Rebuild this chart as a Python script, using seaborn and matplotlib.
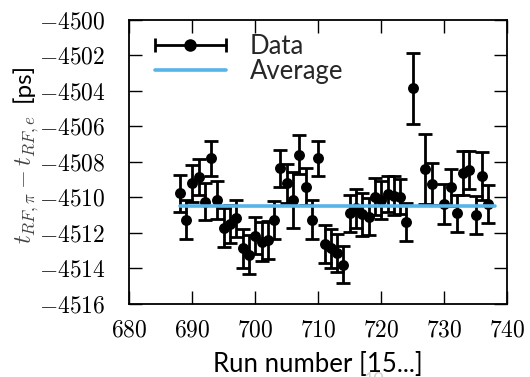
import numpy as np
import pandas as pd
import matplotlib
matplotlib.use("Agg")
import matplotlib.pyplot as plt
from matplotlib.legend_handler import HandlerErrorbar
import seaborn as sns

# ---- data ----
runs = [688, 689, 690, 691, 692, 693, 694, 695, 696, 697, 698, 699, 700, 701,
        702, 703, 704, 705, 706, 707, 708, 709, 710, 711, 712, 713, 714, 715,
        716, 717, 718, 719, 720, 721, 722, 723, 724, 725, 727, 728, 730, 731,
        732, 733, 734, 735, 736, 737]
dt = [-4509.76, -4511.27, -4509.20, -4508.85, -4510.24, -4507.80, -4510.14,
      -4511.70, -4511.50, -4511.17, -4512.86, -4513.24, -4512.15, -4512.50,
      -4512.40, -4511.27, -4508.35, -4509.20, -4510.14, -4507.60, -4509.40,
      -4511.27, -4507.80, -4512.62, -4512.86, -4513.14, -4513.80, -4510.90,
      -4510.60, -4510.95, -4511.08, -4509.95, -4510.14, -4509.80, -4509.90,
      -4509.95, -4511.38, -4503.85, -4508.40, -4509.25, -4510.37, -4509.43,
      -4510.90, -4508.64, -4508.45, -4510.99, -4508.80, -4510.37]
err = [1.05, 1.10, 1.05, 1.00, 1.05, 1.00, 1.05, 1.10, 1.05, 1.05, 1.10, 1.10,
       1.05, 1.10, 1.05, 1.05, 1.05, 1.10, 1.60, 1.10, 1.05, 1.10, 1.00, 1.05,
       1.10, 1.05, 1.05, 1.05, 1.10, 1.20, 1.05, 1.05, 1.05, 1.00, 1.10, 1.00,
       1.05, 2.00, 1.95, 1.20, 1.15, 1.05, 1.05, 1.25, 1.05, 1.05, 1.35, 1.05]
avg_runs = [688, 738]
avg_val = [-4510.5, -4510.5]
xticks = [680, 690, 700, 710, 720, 730, 740]
yticks = [-4516, -4514, -4512, -4510, -4508, -4506, -4504, -4502, -4500]

df = pd.DataFrame({"run": runs, "dt": dt, "err": err})
avg_df = pd.DataFrame({"run": avg_runs, "dt": avg_val})

sns.set_theme(style="ticks")
plt.rcParams["font.family"] = ["Lato", "DejaVu Sans"]
plt.rcParams["mathtext.fontset"] = "cm"

fig = plt.figure(figsize=(5.30, 3.77), dpi=100)
ax = fig.add_axes([0.244, 0.194, 0.713, 0.753])

LW = 2.0
CAP = 5.0
# error bars (data)
ax.errorbar(df["run"], df["dt"], yerr=df["err"], fmt="none", ecolor="black",
            elinewidth=LW, capsize=CAP, capthick=LW, zorder=3)
sns.scatterplot(data=df, x="run", y="dt", ax=ax, color="black", s=62,
                edgecolor="black", linewidth=0, zorder=4, legend=False)
# average line
sns.lineplot(data=avg_df, x="run", y="dt", ax=ax, color="#56B4E9",
             linewidth=2.6, zorder=5, legend=False)

# legend handles
h_data = ax.errorbar([np.nan], [np.nan], xerr=[1], fmt="o", color="black",
                     markersize=8, elinewidth=LW, capsize=CAP, capthick=LW)
h_avg, = ax.plot([np.nan], [np.nan], color="#56B4E9", linewidth=2.6)
leg = ax.legend([h_data, h_avg], ["Data", "Average"], loc="upper left",
                bbox_to_anchor=(0.068, 0.952), frameon=False, fontsize=18.5,
                handlelength=2.75, handletextpad=0.95, labelspacing=0.0,
                borderpad=0.0, borderaxespad=0.0,
                handler_map={type(h_data): HandlerErrorbar(xerr_size=1.375,
                                                          marker_pad=0.0)})

ax.set_xlim(680, 740)
ax.set_ylim(-4516, -4500)
ax.set_xticks(xticks)
ax.set_xticklabels([f"${v}$" for v in xticks])
ax.set_yticks(yticks)
ax.set_yticklabels([f"${v}$" for v in yticks])
ax.tick_params(axis="both", which="major", direction="in", length=9.5,
               width=1.0, color="black", labelsize=17, top=True, right=True,
               labelcolor="black")
ax.tick_params(axis="y", pad=17)
ax.tick_params(axis="x", pad=11)
for s in ax.spines.values():
    s.set_linewidth(1.3)
    s.set_color("black")

ax.set_xlabel("Run number [15...]", fontsize=18.5, color="black", labelpad=8.5)
ax.set_ylabel("")
# y label: math part and unit part
fig.text(27 / 530, 1 - 180 / 377, r"$t_{RF,\pi} - t_{RF,e}$", fontsize=17.5,
         color="#444444", rotation=90, ha="center", va="center")
fig.text(22.5 / 530, 1 - 82.5 / 377, "[ps]", fontsize=17.5, color="black",
         rotation=90, ha="center", va="center")

fig.text(0.705, 0.014, "10", fontsize=13, color="#d0d0d0", va="top", ha="center")

fig.savefig("out.png", dpi=100)
